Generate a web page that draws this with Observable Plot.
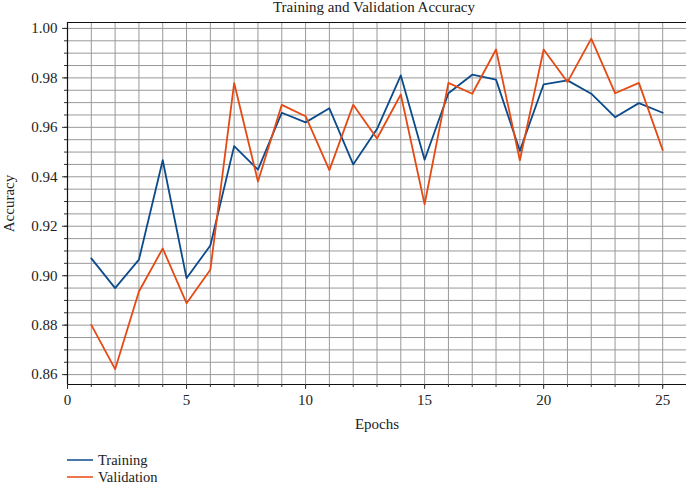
<!DOCTYPE html>
<html>
<head>
<meta charset="utf-8">
<script src="https://cdn.jsdelivr.net/npm/d3@7"></script>
<script src="https://cdn.jsdelivr.net/npm/@observablehq/plot@0.6"></script>
<style>
  html, body { margin: 0; padding: 0; background: #fff; }
  body { width: 686px; height: 484px; overflow: hidden; font-family: "Liberation Serif", "DejaVu Serif", serif; color: #222; }
  #title { height: 20px; line-height: 15px; font-size: 15px; text-align: center; padding-left: 62px; box-sizing: border-box; }
  #legend { padding-left: 67px; padding-top: 13px; font-size: 14.5px; }
  .row { height: 14px; line-height: 14px; display: flex; align-items: center; margin-bottom: 3px; }
  .row:last-child { margin-bottom: 0; }
  .row svg { margin-right: 5px; }
</style>
</head>
<body>
<div id="title">Training and Validation Accuracy</div>
<div id="chart"></div>
<div id="legend"></div>
<script>
const epochs = [1,2,3,4,5,6,7,8,9,10,11,12,13,14,15,16,17,18,19,20,21,22,23,24,25];
const training = [0.907,0.895,0.9065,0.9467,0.899,0.9122,0.9524,0.9429,0.9659,0.962,0.9677,0.945,0.9593,0.981,0.9469,0.9738,0.9813,0.9793,0.9505,0.9774,0.979,0.9736,0.9641,0.9698,0.9659];
const validation = [0.8801,0.8622,0.8936,0.911,0.8889,0.9024,0.9779,0.9381,0.9691,0.9645,0.9427,0.9691,0.9555,0.9733,0.9289,0.978,0.9736,0.9915,0.9467,0.9915,0.9783,0.9959,0.9738,0.978,0.9508];
const seriesNames = ["Training", "Validation"];
const seriesColors = ["#0b4a8b", "#e64a14"];
const xDomain = [0, 26];
const yDomain = [0.856, 1.0024];
const xTicks = [0, 5, 10, 15, 20, 25];
const xMinor = d3.range(0, 27, 1);
const xGrid = d3.range(1, 26, 1);
const yTicks = [0.86, 0.88, 0.90, 0.92, 0.94, 0.96, 0.98, 1.00];
const yMinor = d3.range(0, 29).map(i => +(0.86 + i * 0.005).toFixed(3));

const rows = [];
seriesNames.forEach((s, k) => {
  const vals = k === 0 ? training : validation;
  epochs.forEach((e, i) => rows.push({epoch: e, acc: vals[i], series: s}));
});

const chart = Plot.plot({
  width: 686,
  height: 420,
  marginTop: 2,
  marginLeft: 67,
  marginRight: 0,
  marginBottom: 56,
  style: {fontFamily: "Liberation Serif", fontSize: "15px", color: "#222", background: "#fff", overflow: "visible"},
  x: {domain: xDomain},
  y: {domain: yDomain},
  color: {domain: seriesNames, range: seriesColors},
  marks: [
    Plot.ruleX(xGrid, {stroke: "#999", strokeWidth: 1}),
    Plot.ruleY(yMinor, {stroke: "#999", strokeWidth: 1}),
    Plot.line(rows, {x: "epoch", y: "acc", z: "series", stroke: "series", strokeWidth: 1.8}),
    Plot.ruleX([xDomain[0]], {stroke: "#111", strokeWidth: 1.2}),
    Plot.ruleY(yDomain, {stroke: "#111", strokeWidth: 1.2}),
    Plot.axisX(xMinor, {tickSize: 3, text: null, label: null, stroke: "#333"}),
    Plot.axisX(xTicks, {tickSize: 5, tickPadding: 5, tickFormat: d => String(d), label: "Epochs", labelAnchor: "center", labelOffset: 44, labelArrow: "none", stroke: "#333"}),
    Plot.axisY(yMinor, {tickSize: 3, text: null, label: null, stroke: "#333"}),
    Plot.axisY(yTicks, {tickSize: 5, tickPadding: 5, tickFormat: d3.format(".2f"), label: "Accuracy", labelAnchor: "center", labelOffset: 64, labelArrow: "none", stroke: "#333"})
  ]
});
document.getElementById("chart").appendChild(chart);

const legend = document.getElementById("legend");
seriesNames.forEach((s, i) => {
  const row = document.createElement("div");
  row.className = "row";
  row.innerHTML = `<svg width="26" height="4"><line x1="0" x2="26" y1="2" y2="2" stroke="${seriesColors[i]}" stroke-width="1.5"/></svg><span>${s}</span>`;
  legend.appendChild(row);
});
</script>
</body>
</html>
